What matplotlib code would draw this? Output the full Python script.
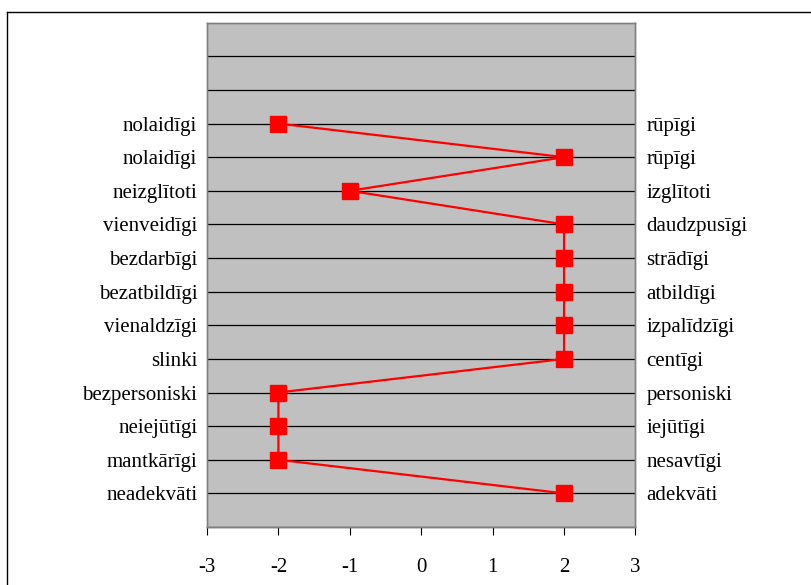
import matplotlib
matplotlib.use('Agg')
import matplotlib.pyplot as plt
from matplotlib.lines import Line2D

# negative pole (left), positive pole (right), score -- top to bottom
left_labels = ['nolaidīgi', 'nolaidīgi', 'neizglītoti', 'vienveidīgi', 'bezdarbīgi',
               'bezatbildīgi', 'vienaldzīgi', 'slinki', 'bezpersoniski', 'neiejūtīgi',
               'mantkārīgi', 'neadekvāti']
right_labels = ['rūpīgi', 'rūpīgi', 'izglītoti', 'daudzpusīgi', 'strādīgi',
                'atbildīgi', 'izpalīdzīgi', 'centīgi', 'personiski', 'iejūtīgi',
                'nesavtīgi', 'adekvāti']
scores = [-2, 2, -1, 2, 2, 2, 2, 2, -2, -2, -2, 2]
x_ticks = [-3, -2, -1, 0, 1, 2, 3]

plt.rcParams['font.family'] = ['Liberation Serif', 'DejaVu Serif']

fig = plt.figure(figsize=(8.11, 5.85), dpi=100)
ax = fig.add_axes([207 / 811, 58 / 585, 428.5 / 811, 504.3 / 585])

n = len(scores)
ypos = list(range(n, 0, -1))

ax.set_facecolor('#c0c0c0')
ax.set_xlim(-3, 3)
ax.set_ylim(0, 15)
for y in range(1, 15):
    ax.axhline(y, color='black', lw=0.9, zorder=1)

ax.plot(scores, ypos, color='#ff0000', lw=1.6, marker='s', markersize=11,
        markerfacecolor='#ff0000', markeredgecolor='#ff0000', zorder=3)

fs = 15
ax.set_xticks(x_ticks)
ax.set_xticklabels([str(t) for t in x_ticks], fontsize=fs)
ax.tick_params(axis='x', direction='out', length=6, width=0.8, colors='black', pad=16)
ax.set_yticks(ypos)
ax.set_yticklabels(left_labels, fontsize=fs, va='center_baseline')
ax.tick_params(axis='y', length=0, pad=7)

ax2 = ax.twinx()
ax2.set_ylim(0, 15)
ax2.set_yticks(ypos)
ax2.set_yticklabels(right_labels, fontsize=fs, va='center_baseline')
ax2.tick_params(axis='y', length=0, pad=8)

for a in (ax, ax2):
    for s in a.spines.values():
        s.set_color('#808080')
        s.set_linewidth(1.0)
ax.spines['bottom'].set_color('#404040')

# outer chart frame (only left and top edges visible)
fig.add_artist(Line2D([7 / 811, 7 / 811], [0, 1 - 12 / 585], transform=fig.transFigure,
                      color='black', lw=1.0))
fig.add_artist(Line2D([7 / 811, 1], [1 - 12 / 585, 1 - 12 / 585], transform=fig.transFigure,
                      color='black', lw=1.0))

fig.savefig('out.png', dpi=100)
